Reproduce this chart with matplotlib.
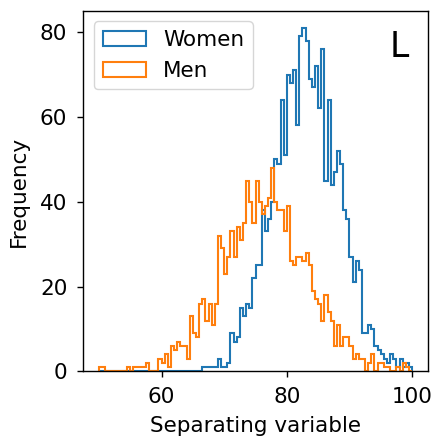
import matplotlib
matplotlib.use("Agg")
import matplotlib.pyplot as plt
import numpy as np

# histogram counts, bins of width 0.5
bin_edges = np.arange(50, 100.25, 0.5)

women_start = 66.5
women_counts = [1, 1, 1, 1, 1, 3, 1, 1, 2, 9, 7, 8, 15, 13, 16, 15, 22, 25, 25,
                38, 33, 36, 40, 50, 49, 64, 51, 70, 68, 71, 58, 79, 81, 78, 69,
                67, 72, 62, 76, 45, 64, 44, 47, 52, 49, 38, 36, 27, 21, 26, 24,
                9, 9, 11, 10, 6, 5, 4, 3, 2, 4, 3, 1, 3, 1, 2, 1]

men_start = 50.0
men_counts = [1, 1, 0, 0, 0, 0, 0, 0, 0, 1, 0, 1, 1, 1, 1, 2, 0, 0, 0, 3,
              2, 4, 1, 6, 5, 7, 6, 6, 3, 13, 9, 8, 16, 17, 12, 16, 11, 16, 32, 29,
              23, 27, 33, 27, 34, 31, 35, 45, 40, 35, 45, 40, 37, 39, 41, 48, 40, 38,
              38, 33, 39, 26, 25, 27, 27, 26, 28, 25, 19, 17, 16, 12, 18, 14, 12, 6,
              11, 6, 8, 8, 6, 3, 4, 3, 3, 0, 2, 4, 0, 2, 2, 1, 1, 0, 0, 1, 0, 2, 1]

women_x = women_start + 0.25 + 0.5 * np.arange(len(women_counts))
men_x = men_start + 0.25 + 0.5 * np.arange(len(men_counts))

plt.rcParams['font.size'] = 15.5

fig = plt.figure(figsize=(4.34, 4.38), dpi=100)
ax = fig.add_axes([0.192, 0.152, 0.7935, 0.8236])

ax.hist(women_x, bins=bin_edges, weights=women_counts, histtype='step',
        color='tab:blue', linewidth=1.5, label='Women')
ax.hist(men_x, bins=bin_edges, weights=men_counts, histtype='step',
        color='tab:orange', linewidth=1.5, label='Men')

ax.set_xlabel('Separating variable', labelpad=6)
ax.set_ylabel('Frequency', labelpad=8)
ax.set_xticks([60, 80, 100])
ax.set_yticks([0, 20, 40, 60, 80])
ax.tick_params(length=4.5, width=1.0, pad=7)
for s in ax.spines.values():
    s.set_linewidth(1.0)

ax.legend(loc='upper left')
ax.text(0.89, 0.872, 'L', transform=ax.transAxes, fontsize=25)

fig.savefig('out.png', dpi=100)
